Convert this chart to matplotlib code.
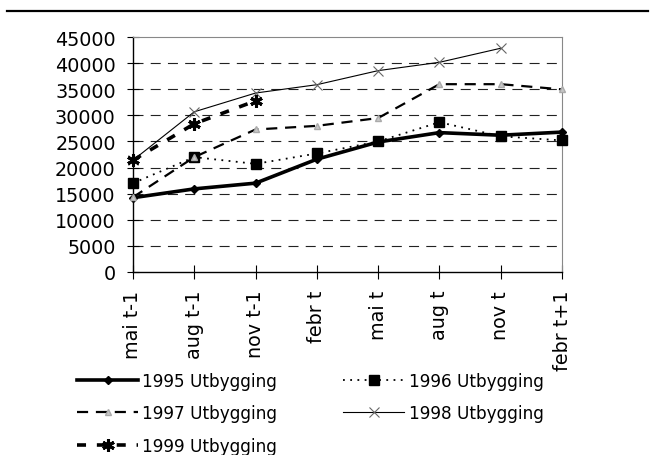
import numpy as np
import matplotlib
matplotlib.use("Agg")
import matplotlib.pyplot as plt
from matplotlib.lines import Line2D

# ====================================
# data

periods = ["mai t-1", "aug t-1", "nov t-1", "febr t",
           "mai t", "aug t", "nov t", "febr t+1"]

u1995 = [14200, 15900, 17000, 21600, 24900, 26700, 26200, 26800]
u1996 = [17000, 22000, 20700, 22700, 25000, 28700, 26000, 25200]
u1997 = [14300, 22000, 27300, 28000, 29500, 36000, 36000, 35000]
u1998 = [21400, 30700, 34300, 35900, 38600, 40200, 42900, np.nan]
u1999 = [21400, 28400, 32800, np.nan, np.nan, np.nan, np.nan, np.nan]

labels = ["1995 Utbygging", "1996 Utbygging", "1997 Utbygging",
          "1998 Utbygging", "1999 Utbygging"]

yticks = list(range(0, 45001, 5000))

# ====================================

plt.rcParams["font.family"] = ["DejaVu Sans"]

fig = plt.figure(figsize=(6.53, 4.56), dpi=100)
ax = fig.add_axes([133/653, 1-272.7/456, (562-133)/653, (272.7-38.3)/456])

x = np.arange(len(periods))

l95, = ax.plot(x, u1995, color="black", lw=2.6, marker="D", ms=4,
               clip_on=False, zorder=3)
l96, = ax.plot(x, u1996, color="black", lw=1.3, ls=(0, (1, 3)),
               marker="s", ms=7, clip_on=False, zorder=3)
l97, = ax.plot(x, u1997, color="black", lw=1.6, ls=(0, (5, 3.5)),
               marker="^", ms=5, mfc="#c8c8c8", mec="#aaaaaa",
               clip_on=False, zorder=3)
l98, = ax.plot(x, u1998, color="black", lw=0.8, marker="x", ms=7,
               mec="#666666", mew=0.8, clip_on=False, zorder=3)
l99, = ax.plot(x, u1999, color="black", lw=2.6, ls=(0, (2.5, 3)),
               marker=(6, 2, 0), ms=9, mew=2.2, clip_on=False, zorder=4)

ax.set_xlim(0, 7)
ax.set_ylim(0, 45000)
ax.set_xticks(x)
ax.set_xticklabels(periods, rotation=90, fontsize=13.8)
ax.set_yticks(yticks)
ax.set_yticklabels([str(v) for v in yticks], fontsize=13.8)

ax.tick_params(axis="x", direction="inout", length=10, width=0.8, pad=8)
ax.tick_params(axis="y", direction="inout", length=8, width=0.8, pad=8.5)

for v in yticks[1:-1]:
    ax.axhline(v, color="#222222", lw=0.8, ls=(0, (9, 6.5)), zorder=1)

ax.spines["left"].set_linewidth(1)
ax.spines["bottom"].set_linewidth(1)
ax.spines["top"].set_color("#888888")
ax.spines["right"].set_color("#888888")
ax.spines["top"].set_linewidth(0.8)
ax.spines["right"].set_linewidth(0.8)

# ====================================

handles = [l95, l97, l99, l96, l98]
order = [labels[0], labels[2], labels[4], labels[1], labels[3]]

fig.legend(handles, order,
           loc="upper left",
           bbox_to_anchor=(77/653, 1-373/456),
           ncol=2,
           frameon=False,
           fontsize=12.2,
           numpoints=1,
           handlelength=3.6,
           handletextpad=0.25,
           columnspacing=3.9,
           labelspacing=0.85,
           borderpad=0,
           borderaxespad=0)

# top rule
fig.add_artist(Line2D([7/653, 648/653], [1-12/456, 1-12/456],
                      color="black", lw=1.6))

plt.savefig("out.png", dpi=100)
